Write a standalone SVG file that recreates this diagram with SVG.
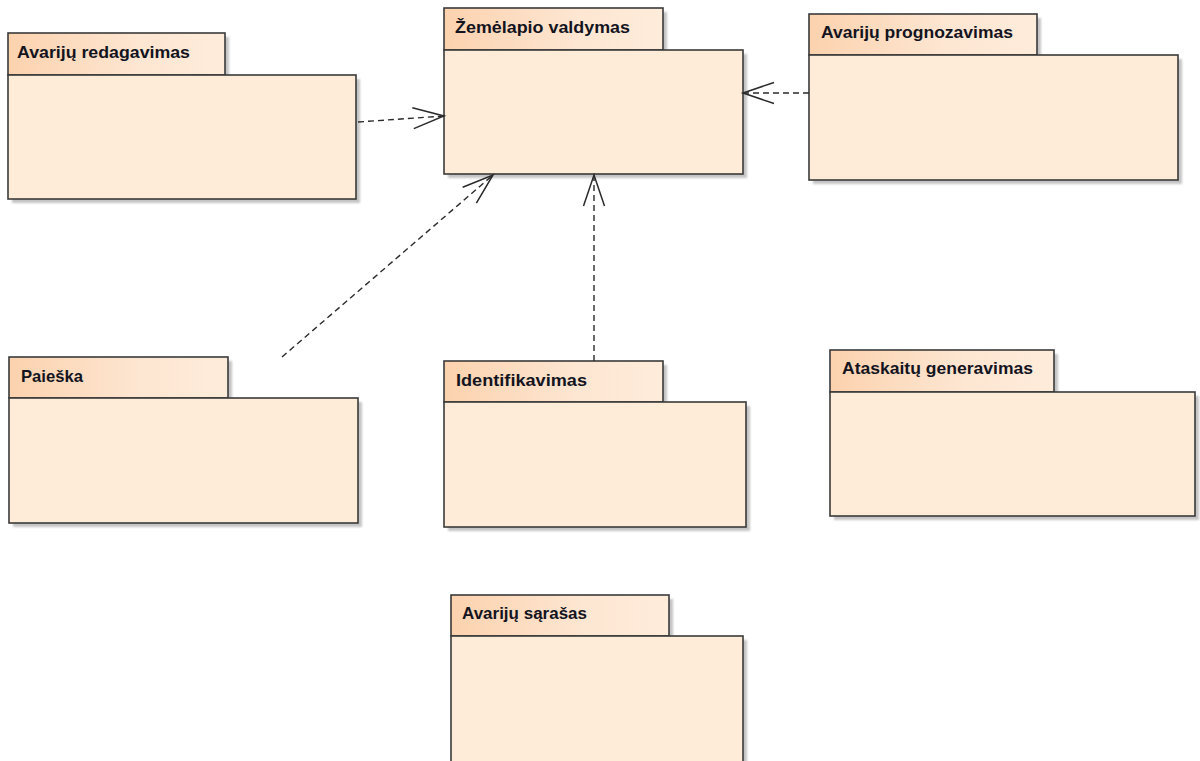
<svg xmlns="http://www.w3.org/2000/svg" width="1200" height="761" viewBox="0 0 1200 761">
  <defs>
    <linearGradient id="tabFill" x1="0" y1="0" x2="1" y2="0">
      <stop offset="0" stop-color="#fcd2ae"/>
      <stop offset="0.6" stop-color="#fde6d2"/>
      <stop offset="1" stop-color="#feecda"/>
    </linearGradient>
    <filter id="soft" x="-5%" y="-5%" width="115%" height="115%">
      <feGaussianBlur stdDeviation="1.2"/>
    </filter>
    <marker id="open" markerUnits="userSpaceOnUse" markerWidth="40" markerHeight="30" viewBox="-34 -15 40 30" refX="0" refY="0" orient="auto">
      <path d="M-31,-10.5 L0,0 L-31,10.5" fill="none" stroke="#2a2a2a" stroke-width="1.5"/>
    </marker>
  </defs>
  <style>
    .shadow { fill: #c4c4c4; filter: url(#soft); }
    .tab { fill: url(#tabFill); stroke: #3a3a3a; stroke-width: 1.6; }
    .body { fill: #feebd8; stroke: #3a3a3a; stroke-width: 1.6; }
    .label { font-family: "Liberation Sans", Arial, sans-serif; font-weight: bold; font-size: 16.5px; fill: #14141e; }
    .dep { fill: none; stroke: #2a2a2a; stroke-width: 1.4; stroke-dasharray: 6 4; marker-end: url(#open); }
  </style>

  <rect width="1200" height="761" fill="#ffffff"/>

  <!-- packages -->
  <g id="avariju-redagavimas">
    <rect class="shadow" x="12" y="37" width="217" height="42"/>
    <rect class="shadow" x="12" y="79" width="348" height="124"/>
    <rect class="tab" x="8" y="33" width="217" height="42"/>
    <rect class="body" x="8" y="75" width="348" height="124"/>
    <text class="label" x="17" y="58" textLength="173" lengthAdjust="spacingAndGlyphs">Avarijų redagavimas</text>
  </g>

  <g id="zemelapio-valdymas">
    <rect class="shadow" x="448" y="12" width="219" height="42"/>
    <rect class="shadow" x="448" y="54" width="299" height="124"/>
    <rect class="tab" x="444" y="8" width="219" height="42"/>
    <rect class="body" x="444" y="50" width="299" height="124"/>
    <text class="label" x="455" y="33" textLength="175" lengthAdjust="spacingAndGlyphs">Žemėlapio valdymas</text>
  </g>

  <g id="avariju-prognozavimas">
    <rect class="shadow" x="813" y="18" width="228" height="41"/>
    <rect class="shadow" x="813" y="59" width="369" height="125"/>
    <rect class="tab" x="809" y="14" width="228" height="41"/>
    <rect class="body" x="809" y="55" width="369" height="125"/>
    <text class="label" x="821" y="38" textLength="192" lengthAdjust="spacingAndGlyphs">Avarijų prognozavimas</text>
  </g>

  <g id="paieska">
    <rect class="shadow" x="13" y="361" width="219" height="41"/>
    <rect class="shadow" x="13" y="402" width="349" height="125"/>
    <rect class="tab" x="9" y="357" width="219" height="41"/>
    <rect class="body" x="9" y="398" width="349" height="125"/>
    <text class="label" x="21" y="382" textLength="62" lengthAdjust="spacingAndGlyphs">Paieška</text>
  </g>

  <g id="identifikavimas">
    <rect class="shadow" x="448" y="365" width="219" height="41"/>
    <rect class="shadow" x="448" y="406" width="302" height="125"/>
    <rect class="tab" x="444" y="361" width="219" height="41"/>
    <rect class="body" x="444" y="402" width="302" height="125"/>
    <text class="label" x="456" y="386" textLength="131" lengthAdjust="spacingAndGlyphs">Identifikavimas</text>
  </g>

  <g id="ataskaitu-generavimas">
    <rect class="shadow" x="834" y="354" width="224" height="42"/>
    <rect class="shadow" x="834" y="396" width="365" height="124"/>
    <rect class="tab" x="830" y="350" width="224" height="42"/>
    <rect class="body" x="830" y="392" width="365" height="124"/>
    <text class="label" x="842" y="374" textLength="191" lengthAdjust="spacingAndGlyphs">Ataskaitų generavimas</text>
  </g>

  <g id="avariju-sarasas">
    <rect class="shadow" x="455" y="599" width="218" height="41"/>
    <rect class="shadow" x="455" y="640" width="292" height="140"/>
    <rect class="tab" x="451" y="595" width="218" height="41"/>
    <rect class="body" x="451" y="636" width="292" height="140"/>
    <text class="label" x="462" y="619" textLength="125" lengthAdjust="spacingAndGlyphs">Avarijų sąrašas</text>
  </g>

  <!-- dependencies -->
  <g id="connectors">
    <line class="dep" x1="358" y1="122" x2="444" y2="116"/>
    <line class="dep" x1="809" y1="93" x2="743" y2="93"/>
    <line class="dep" x1="282" y1="357" x2="493" y2="175"/>
    <line class="dep" x1="594" y1="361" x2="594" y2="175"/>
  </g>
</svg>
